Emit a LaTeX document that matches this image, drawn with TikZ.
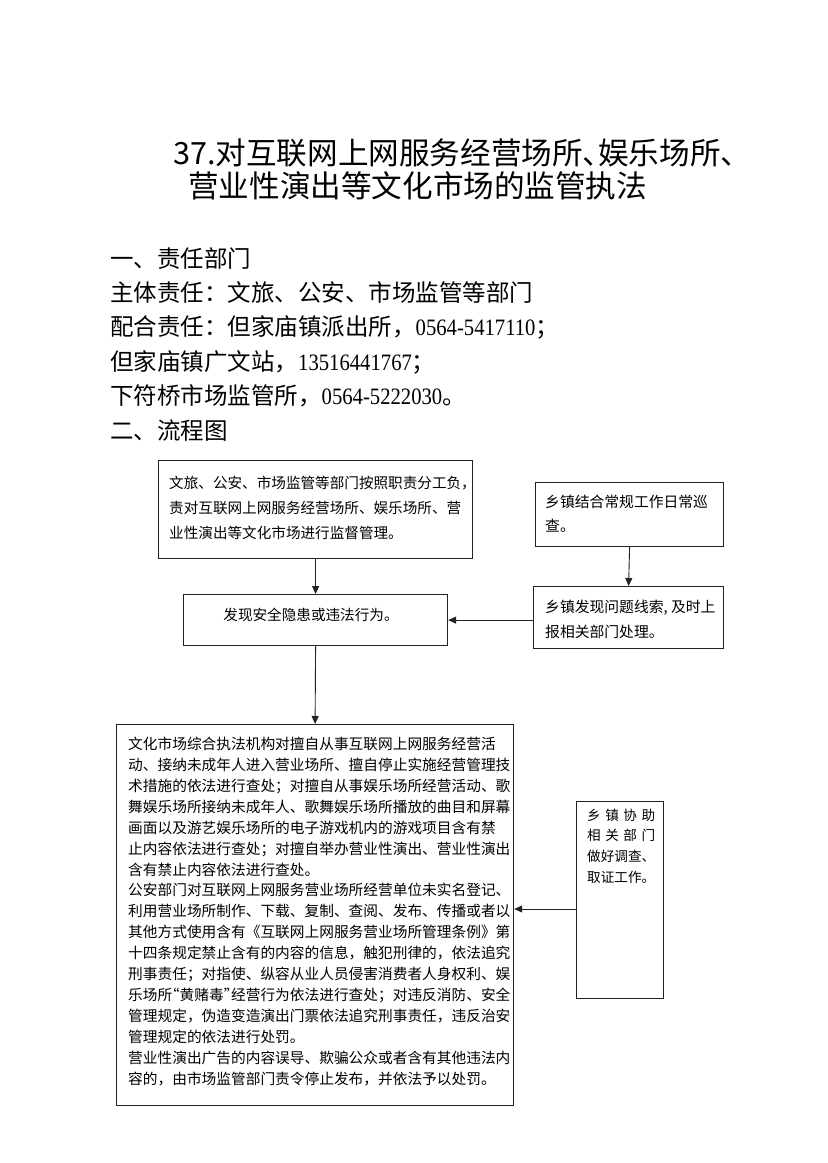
\documentclass[tikz,border=0pt]{standalone}
\usepackage{fontspec}
\usepackage{graphicx}
\usetikzlibrary{arrows.meta}
\setmainfont{Noto Sans CJK SC}
\newfontfamily\tnr{Liberation Serif}
\newcommand\digs[1]{{\tnr\scalebox{0.88}[1]{#1}}}
\newcommand\narrowp[1]{\makebox[0.5em][l]{#1}}
\newcommand\narrowq[1]{\makebox[0.5em][r]{#1}}
\definecolor{ln}{HTML}{222222}
\tikzset{
  box/.style={draw=ln, line width=1.2pt, rectangle, inner sep=0pt, anchor=north west},
  conn/.style={draw=ln, line width=0.9pt, -{Triangle[length=8pt,width=7pt]}},
  txt/.style={inner sep=0pt, anchor=base west, align=left, text=black},
}
\begin{document}
\begin{tikzpicture}[x=1pt,y=-1pt]
\fill[white] (0,0) rectangle (828,1163);
\useasboundingbox (0,0) rectangle (828,1163);

% title
\node[txt, font=\fontsize{30.6}{33}\selectfont] (t1) at (173,164.6)
  {37.对互联网上网服务经营场所\narrowp{、}娱乐场所\narrowp{、}};
\node[txt, font=\fontsize{30.6}{33}\selectfont] (t2) at (188,197.6)
  {营业性演出等文化市场的监管执法};

% sections (multi-line nodes: base = last line's baseline)
\node[txt, font=\fontsize{23.5}{34.4}\selectfont] (sec) at (110,439)
  {一、责任部门\\
   主体责任：文旅、公安、市场监管等部门\\
   配合责任：但家庙镇派出所，\digs{0564-5417110}；\\
   但家庙镇广文站，\digs{13516441767}；\\
   下符桥市场监管所，\digs{0564-5222030}。\\
   二、流程图};

% boxes
\node[box, minimum width=314pt, minimum height=98pt] (b1) at (158,460) {};
\node[box, minimum width=264pt, minimum height=51pt] (b2) at (183,594) {};
\node[box, minimum width=188pt, minimum height=64pt] (b3) at (535,482) {};
\node[box, minimum width=190pt, minimum height=62pt] (b4) at (533,586) {};
\node[box, minimum width=397pt, minimum height=381pt] (b5) at (116,724) {};
\node[box, minimum width=87pt, minimum height=197pt] (b6) at (576,801) {};

% box texts
\node[txt, font=\fontsize{14.6}{25}\selectfont] (b1t) at (169,538.5)
  {文旅、公安、市场监管等部门按照职责分工负，\\
   责对互联网上网服务经营场所、娱乐场所、营\\
   业性演出等文化市场进行监督管理。};
\node[txt, anchor=base, font=\fontsize{14.6}{20}\selectfont] (b2t) at (311,620.5)
  {发现安全隐患或违法行为。};
\node[txt, font=\fontsize{14.8}{24}\selectfont] (b3t) at (545,531.6)
  {乡镇结合常规工作日常巡\\查。};
\node[txt, font=\fontsize{14.8}{25}\selectfont] (b4t) at (545,637.6)
  {乡镇发现问题线索, 及时上\\报相关部门处理。};
\node[txt, font=\fontsize{14.7}{20.9}\selectfont] (b5t) at (128,1084)
  {文化市场综合执法机构对擅自从事互联网上网服务经营活\\
   动、接纳未成年人进入营业场所、擅自停止实施经营管理技\\
   术措施的依法进行查处；对擅自从事娱乐场所经营活动、歌\\
   舞娱乐场所接纳未成年人、歌舞娱乐场所播放的曲目和屏幕\\
   画面以及游艺娱乐场所的电子游戏机内的游戏项目含有禁\\
   止内容依法进行查处；对擅自举办营业性演出、营业性演出\\
   含有禁止内容依法进行查处。\\
   公安部门对互联网上网服务营业场所经营单位未实名登记、\\
   利用营业场所制作、下载、复制、查阅、发布、传播或者以\\
   其他方式使用含有《互联网上网服务营业场所管理条例》第\\
   十四条规定禁止含有的内容的信息，触犯刑律的，依法追究\\
   刑事责任；对指使、纵容从业人员侵害消费者人身权利、娱\\
   乐场所\narrowq{“}黄赌毒\narrowp{”}经营行为依法进行查处；对违反消防、安全\\
   管理规定，伪造变造演出门票依法追究刑事责任，违反治安\\
   管理规定的依法进行处罚。\\
   营业性演出广告的内容误导、欺骗公众或者含有其他违法内\\
   容的，由市场监管部门责令停止发布，并依法予以处罚。};
\node[txt, font=\fontsize{13.6}{20.7}\selectfont] (b6t) at (587,882.3)
  {\makebox[5em][s]{乡\hfill 镇\hfill 协\hfill 助}\\
   \makebox[5em][s]{相\hfill 关\hfill 部\hfill 门}\\
   做好调查、\\
   取证工作。};

% connectors
\draw[conn] (b1.south) -- (b2.north);
\draw[conn] (b3.south) -- (b4.north);
\draw[conn] (b4.west |- b2.east) -- (b2.east);
\draw[conn] (b2.south) -- (b5.north);
\coordinate (r) at (576,909);
\draw[conn] (r) -- (r -| b5.east);
\end{tikzpicture}
\end{document}
